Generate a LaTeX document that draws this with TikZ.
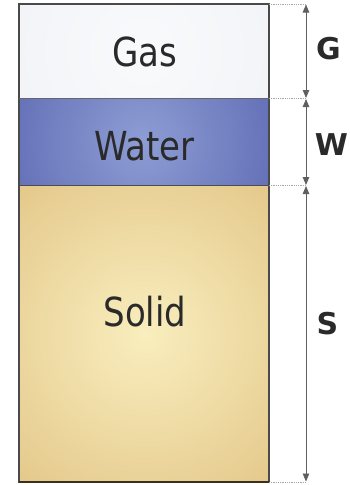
\documentclass[tikz,border=0pt]{standalone}
\usepackage{fontspec}
\setmainfont{DejaVu Sans}
\newfontfamily\layerfont[FakeStretch=0.85]{DejaVu Sans}
\usetikzlibrary{arrows.meta}
\definecolor{gasout}{HTML}{EDF0F4}
\definecolor{gasin}{HTML}{F9FAFC}
\definecolor{waterout}{HTML}{4E58A8}
\definecolor{waterin}{HTML}{8E9DD4}
\definecolor{solidout}{HTML}{D9B470}
\definecolor{solidin}{HTML}{F9EEBE}
\definecolor{edge}{HTML}{4A4A4A}
\definecolor{baseedge}{HTML}{3A3020}
\definecolor{ink}{HTML}{2A2A2A}
\tikzset{
  layertext/.style={font=\layerfont\fontsize{40}{40}\selectfont, text=ink, anchor=base, inner sep=0pt},
  dimtext/.style={font=\fontsize{30}{30}\selectfont\bfseries, text=ink, anchor=base, inner sep=0pt},
  guide/.style={draw=gray!70, densely dotted, line width=0.8pt},
  dimline/.style={draw=ink!75, line width=0.8pt, {Triangle[length=8pt,width=6.5pt]}-{Triangle[length=8pt,width=6.5pt]}},
}
\begin{document}
\begin{tikzpicture}[x=1pt,y=-1pt]
\useasboundingbox (0,0) rectangle (350,485);
% layer boundaries
\coordinate (tl) at (19,4);
\coordinate (tr) at (269,4);
\coordinate (gl) at (19,98.5);
\coordinate (gr) at (269,98.5);
\coordinate (wl) at (19,185.5);
\coordinate (wr) at (269,185.5);
\coordinate (bl) at (19,482);
\coordinate (br) at (269,482);
% gas layer
\begin{scope}
  \clip (tl) rectangle (gr);
  \fill[gasout] (tl) rectangle (gr);
  \shade[inner color=gasin, outer color=gasout] (144,51) circle (220);
\end{scope}
% water layer
\begin{scope}
  \clip (gl) rectangle (wr);
  \fill[waterout] (gl) rectangle (wr);
  \shade[inner color=waterin, outer color=waterout] (142,142) circle (210);
\end{scope}
% solid layer
\begin{scope}
  \clip (wl) rectangle (br);
  \fill[solidout] (wl) rectangle (br);
  \shade[inner color=solidin, outer color=solidout] (145,335) circle (300);
\end{scope}
% outlines
\draw[edge, line width=1.2pt] (tl) rectangle (br);
\draw[gray!80!black, line width=0.8pt] (gl) -- (gr);
\draw[gray!60!black, line width=0.6pt] (wl) -- (wr);
\draw[baseedge, line width=1.8pt] (bl) -- (br);
% layer names
\node[layertext] (gas) at (145,66.5) {Gas};
\node[layertext] (water) at (144.5,160) {Water};
\node[layertext] (solid) at (145,326.5) {Solid};
% dimension guides
\coordinate (d0) at (306,4);
\coordinate (d1) at (306,98.5);
\coordinate (d2) at (306,185.5);
\coordinate (d3) at (306,482);
\draw[guide] (tr) -- (d0);
\draw[guide] (gr) -- (d1);
\draw[guide] (wr) -- (d2);
\draw[guide] (br) -- (d3);
\draw[dimline] ([yshift=0.5pt]d1) -- ([yshift=-0.5pt]d0);
\draw[dimline] ([yshift=-0.5pt]d1) -- ([yshift=0.5pt]d2);
\draw[dimline] ([yshift=-0.5pt]d2) -- ([yshift=0.5pt]d3);
\node[dimtext] (G) at (328.5,59) {G};
\node[dimtext] (W) at (331.5,155) {W};
\node[dimtext] (S) at (327.5,334) {S};
\end{tikzpicture}
\end{document}
